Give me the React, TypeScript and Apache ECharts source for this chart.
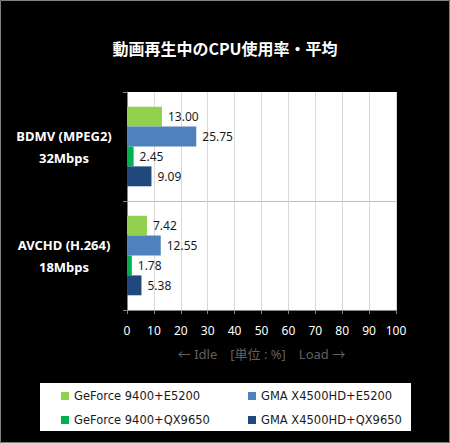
import { useEffect, useRef } from "react"
import * as echarts from "echarts"

const categories = ["BDMV (MPEG2)\n32Mbps", "AVCHD (H.264)\n18Mbps"]
const seriesNames = [
  "GeForce 9400+E5200",
  "GMA X4500HD+E5200",
  "GeForce 9400+QX9650",
  "GMA X4500HD+QX9650",
]
const geforceE5200 = [13.0, 7.42]
const gmaE5200 = [25.75, 12.55]
const geforceQX9650 = [2.45, 1.78]
const gmaQX9650 = [9.09, 5.38]
const seriesColors = ["#92d050", "#4f81bd", "#00b050", "#1f497d"]

const FONT = "'Noto Sans', 'Noto Sans CJK JP', sans-serif"
const LEGEND_FONT = "'DejaVu Sans', sans-serif"

export default function App() {
  const hostRef = useRef<HTMLDivElement>(null)

  useEffect(() => {
    const el = hostRef.current
    if (!el) return
    const chart = echarts.init(el, undefined, { renderer: "svg" })
    const values = [geforceE5200, gmaE5200, geforceQX9650, gmaQX9650]
    const legendBase = {
      orient: "vertical",
      top: 384,
      itemWidth: 8,
      itemHeight: 8,
      itemGap: 10,
      icon: "rect",
      z: 5,
      textStyle: { color: "#1a1a1a", fontSize: 11.5, lineHeight: 14, fontFamily: LEGEND_FONT },
    }

    chart.setOption({
      animation: false,
      backgroundColor: "#000",
      textStyle: { fontFamily: FONT },
      title: {
        text: "動画再生中のCPU使用率・平均",
        left: "center",
        top: 35,
        textStyle: { color: "#fff", fontSize: 16, fontWeight: "bold", fontFamily: "'Noto Sans CJK JP', sans-serif" },
      },
      graphic: [
        {
          type: "rect",
          z: 0,
          shape: { x: 0.5, y: 0.5, width: 449, height: 442 },
          style: { fill: "none", stroke: "#808080", lineWidth: 1 },
        },
        {
          type: "rect",
          z: 0,
          shape: { x: 40, y: 383, width: 371, height: 48 },
          style: { fill: "#fff" },
        },
      ],
      legend: [
        { ...legendBase, left: 56, data: [seriesNames[0], seriesNames[2]] },
        { ...legendBase, left: 243, data: [seriesNames[1], seriesNames[3]] },
      ],
      grid: {
        left: 127,
        right: 54,
        top: 92,
        bottom: 133,
        show: true,
        backgroundColor: "#fff",
        borderWidth: 0,
      },
      xAxis: {
        type: "value",
        min: 0,
        max: 100,
        interval: 10,
        name: "← Idle　[単位 : %]　Load →",
        nameLocation: "middle",
        nameGap: 37,
        nameTextStyle: { color: "#606060", fontSize: 13, fontFamily: FONT },
        axisLine: { show: true, lineStyle: { color: "#868686" } },
        axisTick: { show: true, length: 4, lineStyle: { color: "#868686" } },
        axisLabel: { color: "#fff", fontSize: 12, margin: 14, fontFamily: FONT },
        splitLine: { lineStyle: { color: "#d9d9d9" } },
      },
      yAxis: {
        type: "category",
        inverse: true,
        data: categories,
        axisLine: { show: true, lineStyle: { color: "#868686" } },
        axisTick: { show: true, length: 4, lineStyle: { color: "#868686" } },
        axisLabel: {
          color: "#fff",
          fontSize: 13,
          fontWeight: "bold",
          lineHeight: 22,
          align: "center",
          margin: 63,
          fontFamily: FONT,
        },
        splitLine: {
          show: true,
          lineStyle: { color: ["rgba(0,0,0,0)", "#bfbfbf", "#bfbfbf"] },
        },
      },
      series: seriesNames.map((name, i) => ({
        type: "bar",
        name,
        data: values[i],
        barGap: "0%",
        barCategoryGap: "27%",
        itemStyle: { color: seriesColors[i] },
        label: {
          show: true,
          position: "right",
          distance: 6,
          color: "#1a1a1a",
          fontSize: 12,
          fontFamily: FONT,
          formatter: (p: any) => Number(p.value).toFixed(2),
        },
      })),
    })

    return () => chart.dispose()
  }, [])

  return (
    <div
      ref={hostRef}
      style={{ position: "absolute", left: 0, top: 0, width: 450, height: 443 }}
    />
  )
}
